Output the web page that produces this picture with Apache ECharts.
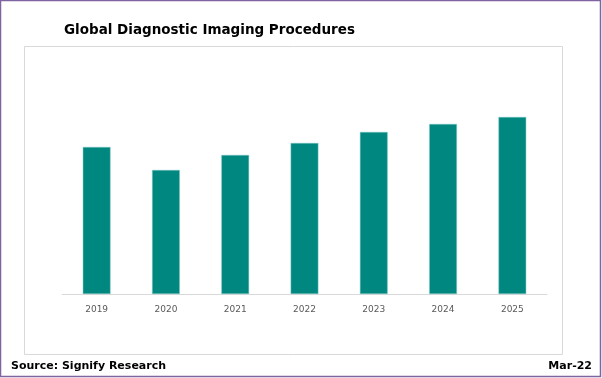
<!DOCTYPE html>
<html>
<head>
<meta charset="utf-8">
<script src="https://cdn.jsdelivr.net/npm/echarts@6/dist/echarts.min.js"></script>
<style>
  html, body { margin: 0; padding: 0; background: #fff; }
  #chart { width: 602px; height: 378px; }
</style>
</head>
<body>
<div id="chart"></div>
<script>
  //年份
  var years = ['2019', '2020', '2021', '2022', '2023', '2024', '2025'];
  //检查量 (相对值, 从图中估读)
  var procedures = [147, 124, 139, 151, 162, 170, 177];

  var chart = echarts.init(document.getElementById('chart'));

  var option = {
    animation: false,
    backgroundColor: '#fff',
    title: {
      text: 'Global Diagnostic Imaging Procedures',
      left: 64,
      top: 23,
      padding: 0,
      textStyle: {
        fontFamily: 'DejaVu Sans',
        fontWeight: 'bold',
        fontSize: 13.5,
        color: '#000'
      }
    },
    grid: {
      left: 62,
      right: 55,
      top: 62,
      bottom: 84
    },
    xAxis: {
      type: 'category',
      data: years,
      axisLine: { lineStyle: { color: '#d9d9d9', width: 1 } },
      axisTick: { show: false },
      axisLabel: {
        color: '#595959',
        fontFamily: 'DejaVu Sans',
        fontSize: 9,
        margin: 11
      }
    },
    yAxis: {
      type: 'value',
      min: 0,
      max: 232,
      show: false
    },
    series: [{
      type: 'bar',
      data: procedures,
      barWidth: '40%',
      itemStyle: {
        color: '#00877F',
        borderColor: '#7cc7c2',
        borderWidth: 0.5
      }
    }],
    graphic: [
      //外框
      {
        type: 'rect',
        shape: { x: 0.5, y: 0.5, width: 600, height: 376 },
        style: { fill: 'none', stroke: '#8064a2', lineWidth: 1.5 },
        silent: true
      },
      //图区框
      {
        type: 'rect',
        shape: { x: 24.5, y: 46.5, width: 538, height: 308 },
        style: { fill: 'none', stroke: '#d9d9d9', lineWidth: 1 },
        silent: true,
        z: -1
      },
      {
        type: 'text',
        left: 11,
        top: 361,
        style: {
          text: 'Source: Signify Research',
          font: 'bold 11px "DejaVu Sans"',
          fill: '#000'
        }
      },
      {
        type: 'text',
        right: 10,
        top: 361,
        style: {
          text: 'Mar-22',
          font: 'bold 11px "DejaVu Sans"',
          fill: '#000'
        }
      }
    ]
  };

  chart.setOption(option);
</script>
</body>
</html>
